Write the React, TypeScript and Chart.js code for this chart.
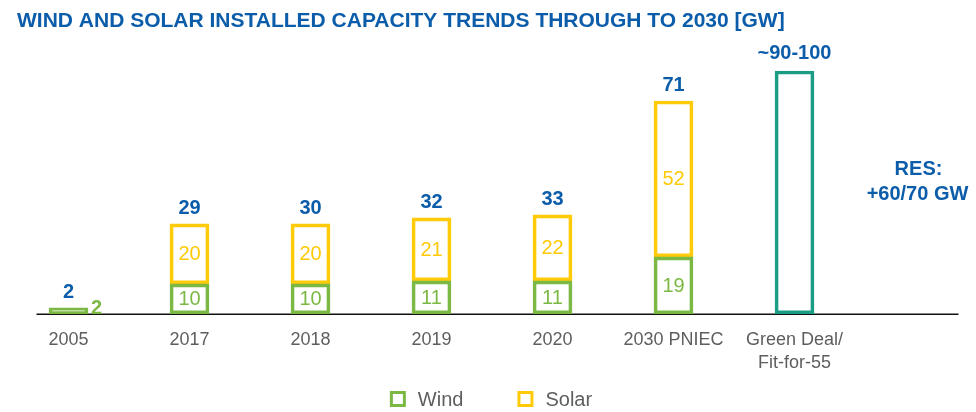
import React, { useEffect, useRef } from "react";
import { Chart, registerables } from "chart.js";

Chart.register(...registerables);

const titleText = "WIND AND SOLAR INSTALLED CAPACITY TRENDS THROUGH TO 2030 [GW]";
const categories: (string | string[])[] = [
  "2005",
  "2017",
  "2018",
  "2019",
  "2020",
  "2030 PNIEC",
  ["Green Deal/", "Fit-for-55"],
  "",
];
const windGW: (number | null)[] = [2, 10, 10, 11, 11, 19, null, null];
const solarGW: (number | null)[] = [null, 20, 20, 21, 22, 52, null, null];
const totalGW: (number | null)[] = [2, 29, 30, 32, 33, 71, null, null];
const greenDealGW: (number | null)[] = [null, null, null, null, null, null, 81, null];
const greenDealLabel = "~90-100";
const resLines = ["RES:", "+60/70 GW"];
const resValueGW = 43;
const resIndex = 7;

const FONT = '"Liberation Sans", Arial, Helvetica, sans-serif';
const BLUE = "#0B5DAA";
const GREEN = "#7CB944";
const YELLOW = "#FFCA08";
const TEAL = "#1B9C85";
const GRAY = "#5E5E5E";

const customPlugin = {
  id: "customDraw",
  beforeDatasetsDraw(chart: any) {
    const { ctx, chartArea, scales } = chart;
    const x = scales.x;
    ctx.save();
    ctx.strokeStyle = "#111";
    ctx.lineWidth = 1.5;
    ctx.beginPath();
    const y0 = chartArea.bottom + 0.25;
    ctx.moveTo(x.getPixelForValue(0) - 32, y0);
    ctx.lineTo(x.getPixelForValue(7) + 43, y0);
    ctx.stroke();
    ctx.restore();
  },
  afterDatasetsDraw(chart: any) {
    const { ctx, scales } = chart;
    const x = scales.x;
    const y = scales.y;
    ctx.save();

    // title
    ctx.fillStyle = BLUE;
    ctx.font = `bold 21px ${FONT}`;
    ctx.textAlign = "left";
    ctx.textBaseline = "alphabetic";
    ctx.fillText(titleText, 17, 27);

    const windMeta = chart.getDatasetMeta(0);
    const solarMeta = chart.getDatasetMeta(1);
    const gdMeta = chart.getDatasetMeta(2);

    // segment labels
    ctx.font = `20px ${FONT}`;
    const drawSeg = (meta: any, values: (number | null)[], color: string) => {
      values.forEach((v, i) => {
        if (v == null) return;
        const el = meta.data[i];
        if (!el) return;
        const h = Math.abs(el.base - el.y);
        ctx.fillStyle = color;
        ctx.textBaseline = "middle";
        if (h < 22) {
          ctx.font = `bold 20px ${FONT}`;
          ctx.textAlign = "left";
          ctx.fillText(String(v), el.x + el.width / 2 + 3, (el.y + el.base) / 2 - 2);
          ctx.font = `20px ${FONT}`;
        } else {
          ctx.textAlign = "center";
          ctx.fillText(String(v), el.x, (el.y + el.base) / 2 + 1);
        }
      });
    };
    drawSeg(windMeta, windGW, GREEN);
    drawSeg(solarMeta, solarGW, YELLOW);

    // totals
    ctx.font = `bold 20px ${FONT}`;
    ctx.fillStyle = BLUE;
    ctx.textAlign = "center";
    ctx.textBaseline = "alphabetic";
    totalGW.forEach((t, i) => {
      if (t == null) return;
      const top = solarGW[i] != null ? solarMeta.data[i] : windMeta.data[i];
      ctx.fillText(String(t), top.x, top.y - 10);
    });
    greenDealGW.forEach((v, i) => {
      if (v == null) return;
      const el = gdMeta.data[i];
      ctx.fillText(greenDealLabel, el.x, el.y - 12);
    });

    // RES annotation
    const rx = x.getPixelForValue(resIndex);
    const ry = y.getPixelForValue(resValueGW);
    ctx.fillText(resLines[0], rx + 3, ry - 10);
    ctx.fillText(resLines[1], rx + 2, ry + 15);

    // legend
    const items = [
      { label: chart.data.datasets[0].label, color: GREEN },
      { label: chart.data.datasets[1].label, color: YELLOW },
    ];
    ctx.font = `20px ${FONT}`;
    const box = 16;
    const gap = 12;
    const between = 54;
    const widths = items.map((it) => ctx.measureText(it.label).width);
    const total = widths.reduce((a, w) => a + box + gap + w, 0) + between * (items.length - 1);
    let lx = chart.width / 2 + 3 - total / 2;
    const ly = 399;
    items.forEach((it, k) => {
      ctx.strokeStyle = it.color;
      ctx.lineWidth = 3;
      ctx.strokeRect(lx + 1.5, ly - box / 2 + 1.5, box - 3, box - 3);
      ctx.fillStyle = GRAY;
      ctx.textAlign = "left";
      ctx.textBaseline = "middle";
      ctx.fillText(it.label, lx + box + gap, ly + 1);
      lx += box + gap + widths[k] + between;
    });

    ctx.restore();
  },
};

export default function App() {
  const canvasRef = useRef<HTMLCanvasElement | null>(null);

  useEffect(() => {
    if (!canvasRef.current) return;
    const chart = new Chart(canvasRef.current, {
      type: "bar",
      data: {
        labels: categories as any,
        datasets: [
          {
            label: "Wind",
            data: windGW,
            borderColor: GREEN,
            backgroundColor: "rgba(0,0,0,0)",
            borderWidth: 3,
            borderSkipped: false,
            barThickness: 39,
          },
          {
            label: "Solar",
            data: solarGW,
            borderColor: YELLOW,
            backgroundColor: "rgba(0,0,0,0)",
            borderWidth: 3,
            borderSkipped: false,
            barThickness: 39,
          },
          {
            label: "Green Deal/Fit-for-55",
            data: greenDealGW,
            borderColor: TEAL,
            backgroundColor: "rgba(0,0,0,0)",
            borderWidth: 3,
            borderSkipped: false,
            barThickness: 39,
          },
        ],
      },
      options: {
        animation: false,
        responsive: true,
        maintainAspectRatio: false,
        layout: { padding: { top: 14, bottom: 22, left: 8, right: 0 } },
        plugins: {
          legend: { display: false },
          tooltip: { enabled: false },
          title: { display: false },
        },
        scales: {
          x: {
            stacked: true,
            grid: { display: false, drawTicks: false },
            border: { display: false },
            ticks: {
              color: GRAY,
              font: { family: FONT, size: 18, lineHeight: 1.28 },
              padding: 15,
              maxRotation: 0,
              autoSkip: false,
            },
          },
          y: {
            stacked: true,
            display: false,
            min: 0,
            max: 100,
          },
        },
      },
      plugins: [customPlugin],
    });
    return () => chart.destroy();
  }, []);

  return (
    <div style={{ position: "fixed", left: 0, top: 0, width: 976, height: 412, background: "#fff" }}>
      <canvas ref={canvasRef} />
    </div>
  );
}
